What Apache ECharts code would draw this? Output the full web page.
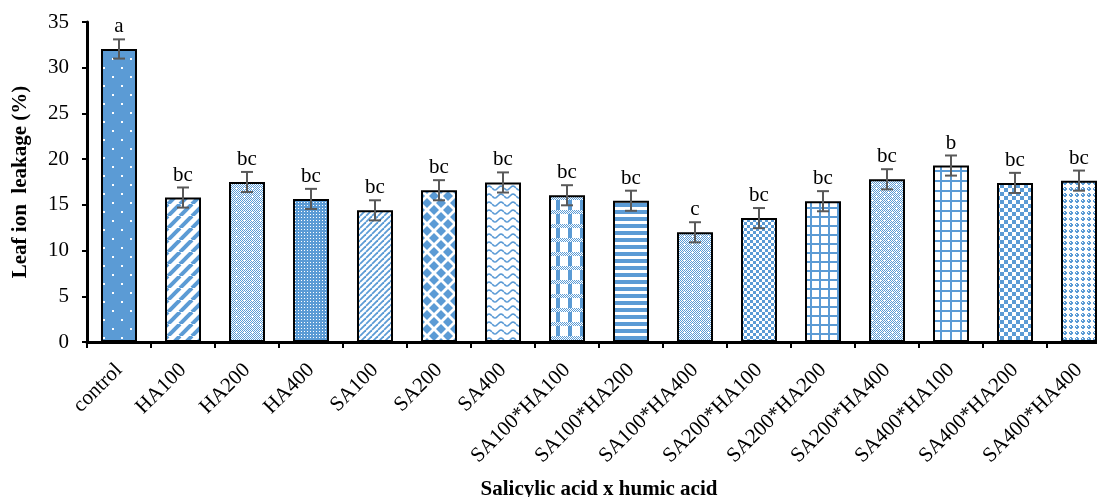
<!DOCTYPE html>
<html><head><meta charset="utf-8">
<script src="https://cdn.jsdelivr.net/npm/echarts@6/dist/echarts.min.js"></script>
<style>html,body{margin:0;padding:0;background:#fff;overflow:hidden}#c{width:1097px;height:497px}</style>
</head><body><div id="c"></div>
<script>
const categories = ['control','HA100','HA200','HA400','SA100','SA200','SA400','SA100*HA100','SA100*HA200','SA100*HA400','SA200*HA100','SA200*HA200','SA200*HA400','SA400*HA100','SA400*HA200','SA400*HA400'];
const values = [32.05, 15.8, 17.5, 15.65, 14.4, 16.6, 17.45, 16.05, 15.45, 12.0, 13.55, 15.4, 17.8, 19.3, 17.4, 17.65];
const errors = [1.05, 1.1, 1.1, 1.1, 1.1, 1.1, 1.1, 1.1, 1.1, 1.1, 1.1, 1.1, 1.1, 1.1, 1.1, 1.1];
const letters = ['a','bc','bc','bc','bc','bc','bc','bc','bc','c','bc','bc','bc','b','bc','bc'];
const yTicks = [0,5,10,15,20,25,30,35];

const B = '#5B9BD5', W = '#ffffff';
function mk(w,h,draw){const c=document.createElement('canvas');c.width=w;c.height=h;const g=c.getContext('2d');g.fillStyle=W;g.fillRect(0,0,w,h);draw(g,w,h);return c;}
function px(g,x,y,col,s){g.fillStyle=col;g.fillRect(x,y,s||1,s||1);}
const pats = [
  mk(18,18,(g)=>{g.fillStyle=B;g.fillRect(0,0,18,18);px(g,4,4,W,2);px(g,13,13,W,2);}),
  mk(12,12,(g)=>{g.strokeStyle=B;g.lineWidth=4;for(let k=-12;k<=24;k+=12){g.beginPath();g.moveTo(k,12);g.lineTo(k+12,0);g.stroke();}}),
  mk(8,8,(g)=>{for(let y=0;y<8;y++)for(let x=0;x<8;x++)if((x+y)%2===0)px(g,x,y,B);px(g,4,3,W);px(g,3,4,W);px(g,4,4,W);px(g,5,4,W);px(g,4,5,W);}),
  mk(3,3,(g)=>{g.fillStyle=B;g.fillRect(0,0,3,3);px(g,1,1,W);}),
  mk(6,6,(g)=>{g.strokeStyle=B;g.lineWidth=1.8;for(let k=-6;k<=12;k+=6){g.beginPath();g.moveTo(k,6);g.lineTo(k+6,0);g.stroke();}}),
  mk(14,14,(g)=>{g.fillStyle=B;const d=(cx,cy)=>{g.beginPath();g.moveTo(cx,cy-5);g.lineTo(cx+5,cy);g.lineTo(cx,cy+5);g.lineTo(cx-5,cy);g.closePath();g.fill();};d(0,0);d(14,0);d(0,14);d(14,14);d(7,7);}),
  mk(12,8,(g)=>{g.strokeStyle=B;g.lineWidth=1.6;g.beginPath();for(let x=0;x<=12;x++){const y=4+2*Math.sin(x/12*2*Math.PI);if(x===0)g.moveTo(x,y);else g.lineTo(x,y);}g.stroke();}),
  mk(12,14,(g)=>{g.fillStyle=B;g.fillRect(4,0,4,14);for(let y=0;y<4;y++)for(let x=0;x<12;x++)if((x+y)%2===0)px(g,x,y,B);else px(g,x,y,W);}),
  mk(8,7,(g)=>{g.fillStyle=B;g.fillRect(0,0,8,4);}),
  mk(8,8,(g)=>{for(let y=0;y<8;y++)for(let x=0;x<8;x++)if((x+y)%2===0)px(g,x,y,B);px(g,4,3,W);px(g,3,4,W);px(g,4,4,W);px(g,5,4,W);px(g,4,5,W);}),
  mk(6,6,(g)=>{px(g,0,0,B,3);px(g,3,3,B,3);}),
  mk(9,9,(g)=>{g.fillStyle=B;g.fillRect(0,0,9,2);g.fillRect(0,0,2,9);}),
  mk(8,8,(g)=>{for(let y=0;y<8;y++)for(let x=0;x<8;x++)if((x+y)%2===0)px(g,x,y,B);px(g,0,0,W);px(g,4,4,W);px(g,3,4,W);px(g,5,4,W);}),
  mk(10,10,(g)=>{g.fillStyle=B;g.fillRect(0,0,10,2);g.fillRect(0,0,2,10);}),
  mk(8,8,(g)=>{px(g,0,0,B,4);px(g,4,4,B,4);}),
  mk(6,6,(g)=>{g.fillStyle=B;for(let y=0;y<6;y++)for(let x=0;x<6;x++){const d=Math.abs(x-2.5)+Math.abs(y-2.5);if(d<=2&&!(x===2&&y===2))px(g,x,y,B);}})
];

const serif = '"Liberation Serif","Times New Roman",serif';
const chart = echarts.init(document.getElementById('c'), null, {renderer:'canvas'});
chart.setOption({
  animation:false,
  grid:{left:87,top:22,width:1024,height:320,containLabel:false,outerBoundsMode:'none'},
  xAxis:{type:'category',data:categories,
    name:'Salicylic acid x humic acid',nameLocation:'middle',nameGap:137,
    nameTextStyle:{fontFamily:serif,fontWeight:'bold',fontSize:21,color:'#000'},
    axisLine:{lineStyle:{color:'#000',width:3}},
    axisTick:{show:true,alignWithLabel:false,length:6,lineStyle:{color:'#000',width:2}},
    axisLabel:{rotate:45,margin:25,fontFamily:serif,fontSize:21,color:'#000',interval:0}},
  yAxis:{type:'value',min:yTicks[0],max:yTicks[yTicks.length-1],interval:5,
    name:'Leaf ion  leakage (%)',nameLocation:'middle',nameGap:56,nameRotate:90,
    nameTextStyle:{fontFamily:serif,fontWeight:'bold',fontSize:21,color:'#000'},
    axisLine:{show:true,lineStyle:{color:'#000',width:3}},
    axisTick:{show:true,length:5,lineStyle:{color:'#000',width:2}},
    splitLine:{show:false},
    axisLabel:{margin:18,fontFamily:serif,fontSize:21,color:'#000'}},
  series:[
    {type:'bar',barWidth:36,
     data:values.map((v,i)=>({value:v,itemStyle:{color:{image:pats[i],repeat:'repeat'},borderColor:'#000',borderWidth:2}}))},
    {type:'custom',z:10,
     data:values.map((v,i)=>[i,v,errors[i]]),
     renderItem:function(params,api){
       const i=api.value(0),v=api.value(1),e=api.value(2);
       const top=api.coord([i,v+e]),bot=api.coord([i,v-e]);
       const x=top[0],hw=6;
       const st={stroke:'#595959',lineWidth:2};
       return {type:'group',children:[
         {type:'line',shape:{x1:x,y1:top[1],x2:x,y2:bot[1]},style:st},
         {type:'line',shape:{x1:x-hw,y1:top[1],x2:x+hw,y2:top[1]},style:st},
         {type:'line',shape:{x1:x-hw,y1:bot[1],x2:x+hw,y2:bot[1]},style:st},
         {type:'text',style:{text:letters[params.dataIndex],x:x,y:top[1]-2,align:'center',verticalAlign:'bottom',font:'21px '+serif,fill:'#000'}}
       ]};
     }}
  ]
});
</script></body></html>
